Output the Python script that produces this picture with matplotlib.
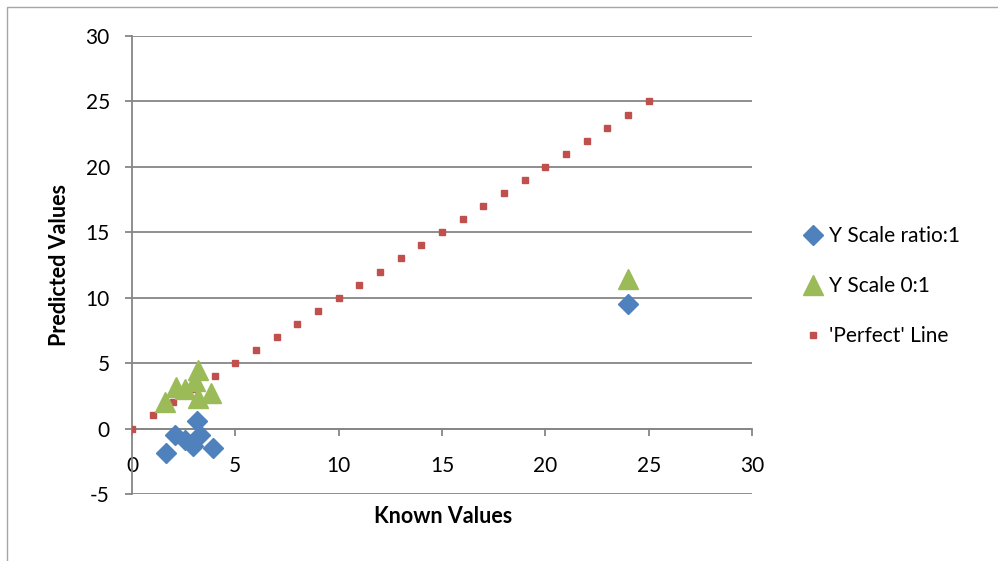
import matplotlib
matplotlib.use("Agg")
import matplotlib.pyplot as plt
from matplotlib.patches import Rectangle

# Known vs predicted values for the two scaling approaches
ratio_known = [1.63, 2.08, 2.56, 2.97, 3.13, 3.29, 3.93, 24.0]
ratio_pred = [-1.86, -0.51, -0.84, -1.35, 0.56, -0.46, -1.48, 9.5]

zero_one_known = [1.6, 2.13, 2.56, 3.05, 3.2, 3.2, 3.82, 24.0]
zero_one_pred = [2.06, 3.19, 3.0, 3.6, 4.5, 2.3, 2.73, 11.4]

perfect = list(range(0, 26))

x_ticks = [0, 5, 10, 15, 20, 25, 30]
y_ticks = [-5, 0, 5, 10, 15, 20, 25, 30]

plt.rcParams['font.family'] = ['Lato', 'DejaVu Sans']
plt.rcParams['axes.unicode_minus'] = False

W, H = 998, 561
fig = plt.figure(figsize=(W / 100, H / 100), dpi=100)
fig.patch.set_facecolor('white')

# chart border
fig.patches.append(Rectangle((7 / W, -0.05), 1.1, 1 - 7 / H + 0.05,
                             transform=fig.transFigure, fill=False,
                             edgecolor='#A6A6A6', linewidth=1.0))

left, right, top, bottom = 132, 752, 36, 494
ax = fig.add_axes([left / W, 1 - bottom / H, (right - left) / W, (bottom - top) / H])
ax.set_xlim(0, 30)
ax.set_ylim(-5, 30)

grid_c = '#868686'
for y in y_ticks:
    ax.axhline(y, color=grid_c, linewidth=1.3, zorder=1)

ax.plot(perfect, perfect, linestyle='none', marker='s', markersize=4.5,
        color='#C0504D', label="'Perfect' Line", zorder=3)
ax.plot(zero_one_known, zero_one_pred, linestyle='none', marker='^', markersize=15,
        color='#9BBB59', label='Y Scale 0:1', zorder=4)
ax.plot(ratio_known, ratio_pred, linestyle='none', marker='D', markersize=10.5,
        color='#4F81BD', label='Y Scale ratio:1', zorder=5)

for s in ['top', 'right']:
    ax.spines[s].set_visible(False)
ax.spines['bottom'].set_position(('data', 0))
ax.spines['bottom'].set_color(grid_c)
ax.spines['bottom'].set_linewidth(1.3)
ax.spines['left'].set_color(grid_c)
ax.spines['left'].set_linewidth(1.3)

ax.set_xticks(x_ticks)
ax.set_yticks(y_ticks)
ax.tick_params(axis='x', direction='out', length=5, width=1.3, color=grid_c,
               pad=15, labelsize=15, labelcolor='black')
ax.tick_params(axis='y', direction='out', length=5, width=1.3, color=grid_c,
               pad=11, labelsize=15, labelcolor='black')

ax.set_xlabel('Known Values', fontsize=15.5, fontweight='bold')
ax.xaxis.set_label_coords(0.502, (H - 506 - (H - bottom)) / (bottom - top))
ax.set_ylabel('Predicted Values', fontsize=15.5, fontweight='bold')
ax.yaxis.set_label_coords((70 - left) / (right - left), 0.5)

handles, labels = ax.get_legend_handles_labels()
order = [2, 1, 0]
leg = fig.legend([handles[i] for i in order], [labels[i] for i in order],
                 loc='center left', bbox_to_anchor=(780 / W, 1 - 286 / H),
                 frameon=False, fontsize=15, labelspacing=1.45,
                 handletextpad=0.05, handlelength=1.4, markerscale=1.0)

fig.savefig('out.png', dpi=100, facecolor='white')
